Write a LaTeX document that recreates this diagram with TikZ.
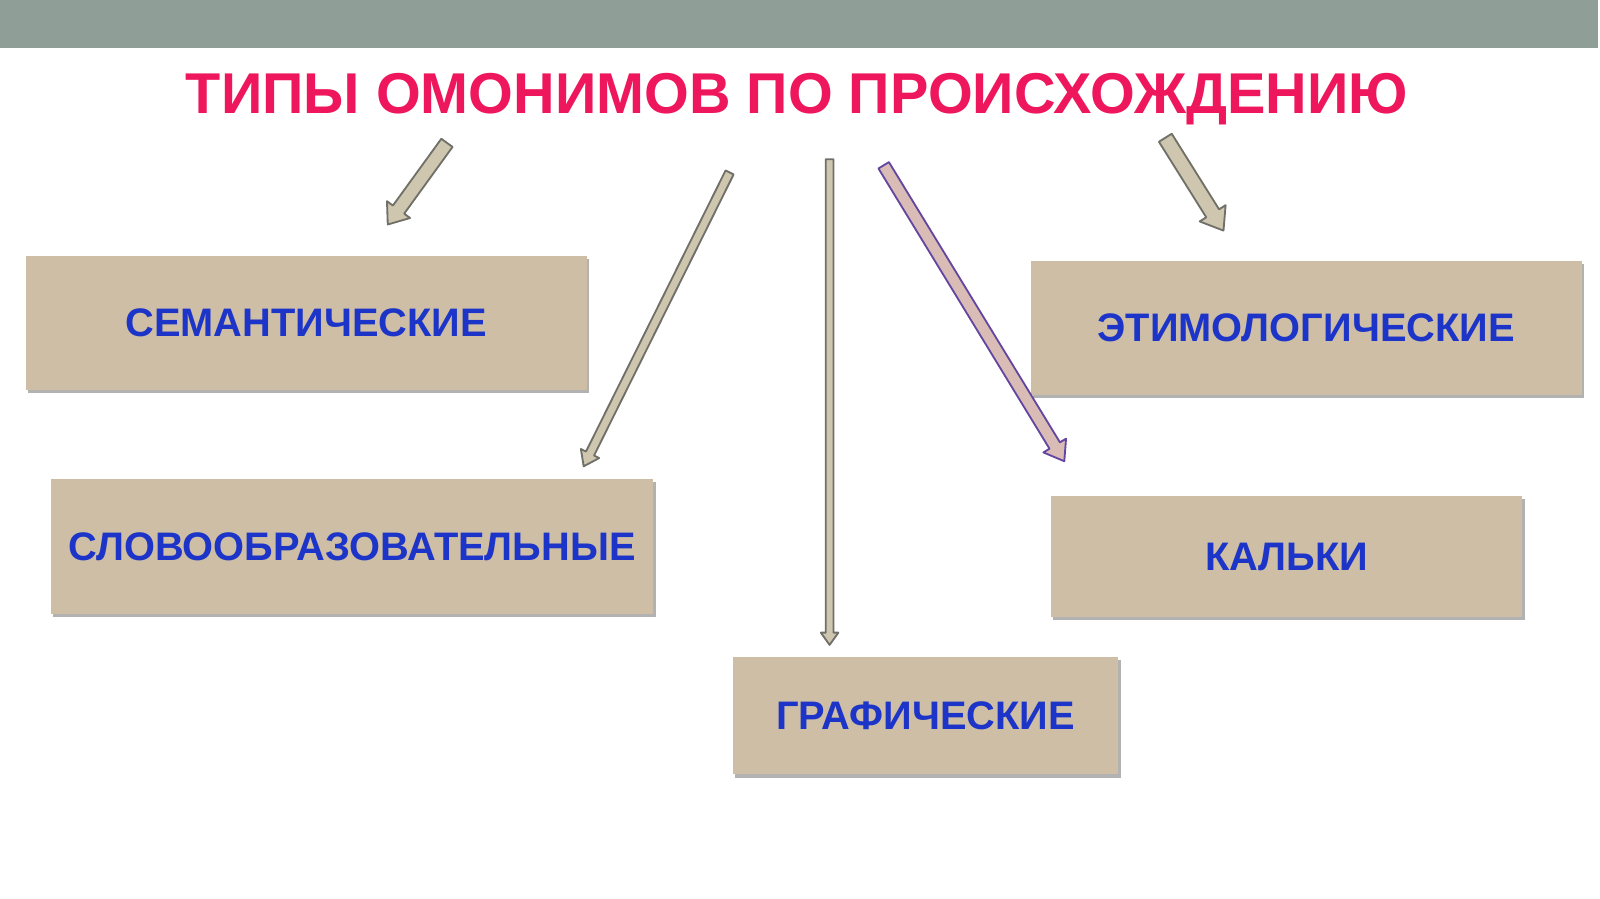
\documentclass[tikz,border=0pt]{standalone}
\usepackage{fontspec}
\setmainfont{Liberation Sans}
\usetikzlibrary{calc,shadows}

\definecolor{barcolor}{RGB}{143,158,150}
\definecolor{titlecolor}{RGB}{238,22,92}
\definecolor{boxfill}{RGB}{205,190,165}
\definecolor{boxtext}{RGB}{28,52,200}
\definecolor{arrowfill}{RGB}{206,198,175}
\definecolor{arrowedge}{RGB}{112,112,105}
\definecolor{kalkifill}{RGB}{218,188,182}
\definecolor{kalkiedge}{RGB}{100,70,160}

\tikzset{
  typebox/.style={fill=boxfill, text=boxtext, inner sep=0pt,
    font=\fontsize{19.5}{22}\selectfont\bfseries,
    drop shadow={shadow xshift=1.2pt, shadow yshift=-1.5pt, fill=black, opacity=0.3}},
  grayarrow/.style={fill=arrowfill, draw=arrowedge, line width=0.9pt, line join=round},
  purplearrow/.style={fill=kalkifill, draw=kalkiedge, line width=0.9pt, line join=round}
}

% block arrow: from, to, half shaft, half head, head length, style
\newcommand{\blockarrow}[6]{%
  \coordinate (neck) at ($(#2)!#5!(#1)$);
  \filldraw[#6] ($(#1)!#3!90:(#2)$) -- ($(neck)!#3!-90:(#1)$) -- ($(neck)!#4!-90:(#1)$)
    -- (#2) -- ($(neck)!#4!90:(#1)$) -- ($(neck)!#3!90:(#1)$) -- ($(#1)!#3!-90:(#2)$) -- cycle;
}

\begin{document}
\begin{tikzpicture}[x=0.5pt, y=-0.5pt]
  \useasboundingbox (0,0) rectangle (1568,881);
  \fill[white] (0,0) rectangle (1568,881);

  % Top bar and title
  \fill[barcolor] (0,0) rectangle (1566,47);
  \node[anchor=base, text=titlecolor, font=\fontsize{28.2}{32}\selectfont\bfseries, inner sep=0pt]
    (title) at (781,111) {ТИПЫ ОМОНИМОВ ПО ПРОИСХОЖДЕНИЮ};

  % The boxes
  \node[typebox, minimum width=275pt, minimum height=65.5pt] (sem) at (300,316.5) {СЕМАНТИЧЕСКИЕ};
  \node[typebox, minimum width=295pt, minimum height=66.5pt] (slovo) at (345,535.5) {СЛОВООБРАЗОВАТЕЛЬНЫЕ};
  \node[typebox, minimum width=189pt, minimum height=57.5pt] (graf) at (907,701.5) {ГРАФИЧЕСКИЕ};
  \node[typebox, minimum width=270pt, minimum height=65.5pt] (etym) at (1280,321.5) {ЭТИМОЛОГИЧЕСКИЕ};
  \node[typebox, minimum width=231pt, minimum height=59.5pt] (kalki) at (1261,545.5) {КАЛЬКИ};

  % Arrow ends
  \coordinate (semA) at (438,140);   \coordinate (semB) at (380,220);
  \coordinate (slovoA) at (715,169); \coordinate (slovoB) at (572,457);
  \coordinate (grafA) at (813,156);  \coordinate (grafB) at (813,632);
  \coordinate (kalkiA) at (866,162); \coordinate (kalkiB) at (1043,452);
  \coordinate (etymA) at (1142,135); \coordinate (etymB) at (1199,226);

  % Draw the arrows
  \blockarrow{semA}{semB}{3.4pt}{7pt}{9pt}{grayarrow}
  \blockarrow{slovoA}{slovoB}{2.2pt}{5pt}{7pt}{grayarrow}
  \blockarrow{grafA}{grafB}{1.9pt}{4.3pt}{6pt}{grayarrow}
  \blockarrow{kalkiA}{kalkiB}{3pt}{6.5pt}{9pt}{purplearrow}
  \blockarrow{etymA}{etymB}{3.7pt}{7.5pt}{10pt}{grayarrow}
\end{tikzpicture}
\end{document}
